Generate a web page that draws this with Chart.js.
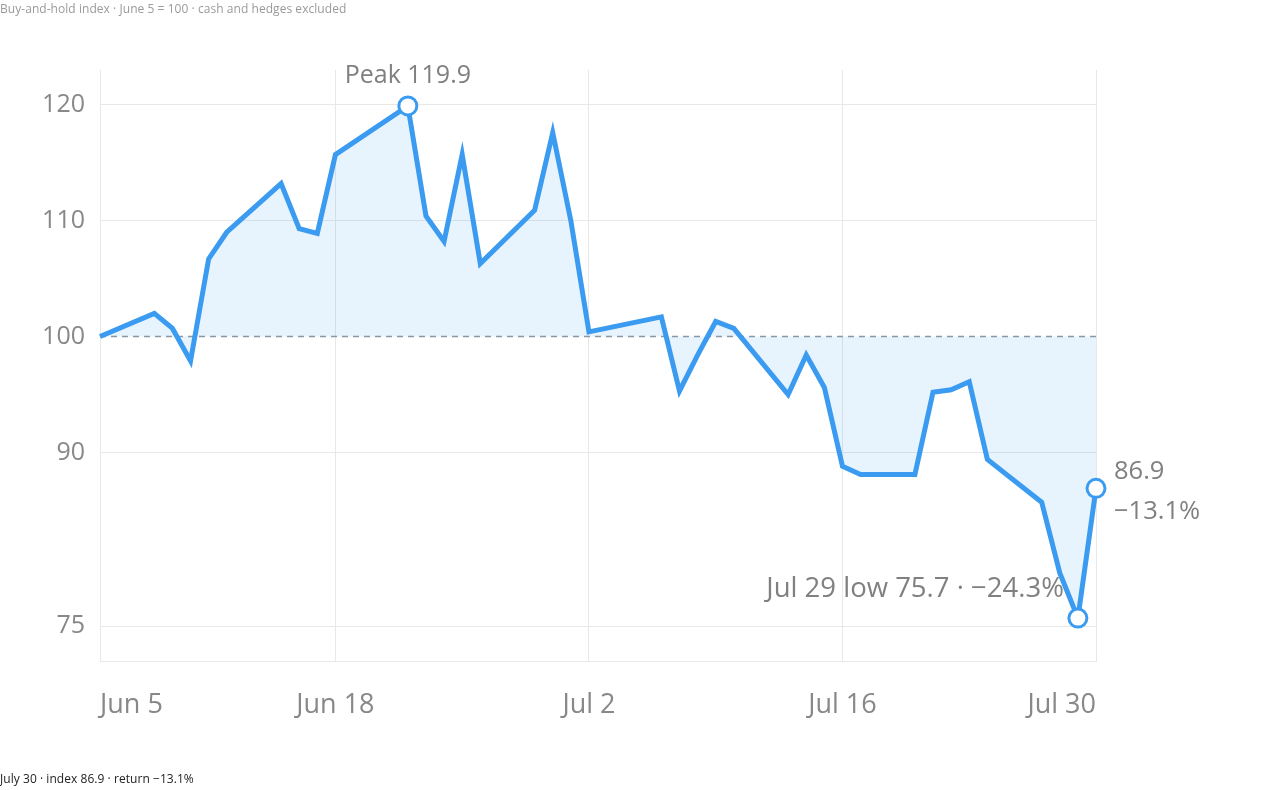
<!DOCTYPE html>
<html>
<head>
<meta charset="utf-8">
<script src="https://cdn.jsdelivr.net/npm/chart.js@4/dist/chart.umd.min.js"></script>
<style>
  html, body { margin: 0; padding: 0; background: #fff; }
  body { width: 1280px; height: 790px; position: relative; overflow: hidden; font-family: "Open Sans", sans-serif; }
  #wrap { position: absolute; left: 0; top: 0; width: 1280px; height: 790px; }
  .note { position: absolute; left: 0; font-size: 12px; white-space: nowrap; letter-spacing: 0.05px; }
  #title { top: 0; color: #9a9a9a; }
  #footer { top: 770px; color: #222; }
</style>
</head>
<body>
<div id="wrap"><canvas id="chart"></canvas></div>
<div class="note" id="title">Buy-and-hold index · June 5 = 100 · cash and hedges excluded</div>
<div class="note" id="footer">July 30 · index 86.9 · return −13.1%</div>
<script>
// trading days (2026) and index values, June 5 = 100
const tradeDates = [
  "2026-06-05", "2026-06-08", "2026-06-09", "2026-06-10", "2026-06-11", "2026-06-12",
  "2026-06-15", "2026-06-16", "2026-06-17", "2026-06-18", "2026-06-22", "2026-06-23",
  "2026-06-24", "2026-06-25", "2026-06-26", "2026-06-29", "2026-06-30", "2026-07-01",
  "2026-07-02", "2026-07-06", "2026-07-07", "2026-07-08", "2026-07-09", "2026-07-10",
  "2026-07-13", "2026-07-14", "2026-07-15", "2026-07-16", "2026-07-17", "2026-07-20",
  "2026-07-21", "2026-07-22", "2026-07-23", "2026-07-24", "2026-07-27", "2026-07-28",
  "2026-07-29", "2026-07-30"
];
const indexValues = [
  100, 102.0, 100.7, 97.9, 106.7, 109.0,
  113.2, 109.3, 108.9, 115.7, 119.9, 110.4,
  108.2, 115.7, 106.3, 110.9, 117.6, 110.0,
  100.4, 101.7, 95.3, 98.4, 101.3, 100.7,
  95.0, 98.4, 95.6, 88.8, 88.1, 88.1,
  95.2, 95.4, 96.1, 89.4, 85.7, 79.6,
  75.7, 86.9
];
const xTickDates = ["2026-06-05", "2026-06-18", "2026-07-02", "2026-07-16", "2026-07-30"];
const xTickLabels = ["Jun 5", "Jun 18", "Jul 2", "Jul 16", "Jul 30"];
const yTicks = [75, 90, 100, 110, 120];
const baseValue = 100;

const DAY = 86400000;
const t0 = Date.parse(tradeDates[0]);
const dayOf = d => Math.round((Date.parse(d) - t0) / DAY);

const points = tradeDates.map((d, i) => ({ x: dayOf(d), y: indexValues[i] }));
const tickDays = xTickDates.map(dayOf);
const lastDay = dayOf(tradeDates[tradeDates.length - 1]);

let peakIdx = 0, lowIdx = 0;
indexValues.forEach((v, i) => {
  if (v > indexValues[peakIdx]) peakIdx = i;
  if (v < indexValues[lowIdx]) lowIdx = i;
});
const lastIdx = indexValues.length - 1;
const marked = [peakIdx, lowIdx, lastIdx];

const pct = v => {
  const r = (v - baseValue) / baseValue * 100;
  return (r < 0 ? "\u2212" : "+") + Math.abs(r).toFixed(1) + "%";
};
const fmtDay = d => {
  const dt = new Date(d + "T00:00:00Z");
  const m = ["Jan","Feb","Mar","Apr","May","Jun","Jul","Aug","Sep","Oct","Nov","Dec"][dt.getUTCMonth()];
  return m + " " + dt.getUTCDate();
};

const BLUE = "#3a9bf0";
const GRID = "#e8e8e8";
const TEXT = "#808080";
const FONT = "'Open Sans', sans-serif";

const labelPlugin = {
  id: "labels",
  afterDatasetsDraw(chart) {
    const ctx = chart.ctx;
    const xs = chart.scales.x, ys = chart.scales.y;
    const px = i => xs.getPixelForValue(points[i].x);
    const py = i => ys.getPixelForValue(points[i].y);
    ctx.save();
    ctx.fillStyle = TEXT;
    ctx.textBaseline = "middle";

    ctx.font = "25px " + FONT;
    ctx.textAlign = "center";
    ctx.fillText("Peak " + indexValues[peakIdx].toFixed(1), px(peakIdx), py(peakIdx) - 30);

    ctx.font = "27.5px " + FONT;
    ctx.textAlign = "right";
    ctx.fillText(fmtDay(tradeDates[lowIdx]) + " low " + indexValues[lowIdx].toFixed(1) + " \u00b7 " + pct(indexValues[lowIdx]),
      px(lowIdx) - 14, py(lowIdx) - 29);

    ctx.font = "25.5px " + FONT;
    ctx.textAlign = "left";
    ctx.fillText(indexValues[lastIdx].toFixed(1), px(lastIdx) + 18, py(lastIdx) - 17);
    ctx.fillText(pct(indexValues[lastIdx]), px(lastIdx) + 18, py(lastIdx) + 23);
    ctx.restore();
  }
};

new Chart(document.getElementById("chart"), {
  type: "line",
  data: {
    datasets: [
      {
        data: points,
        borderColor: BLUE,
        borderWidth: 5,
        backgroundColor: "rgba(58,155,240,0.12)",
        fill: { value: baseValue },
        tension: 0,
        pointRadius: points.map((p, i) => marked.includes(i) ? 9 : 0),
        pointBackgroundColor: "#fff",
        pointBorderColor: BLUE,
        pointBorderWidth: 3,
        clip: false,
        order: 0
      },
      {
        data: [{ x: 0, y: baseValue }, { x: lastDay, y: baseValue }],
        borderColor: "#8d99a5",
        borderWidth: 1.5,
        borderDash: [6, 5],
        pointRadius: 0,
        fill: false,
        order: 1
      }
    ]
  },
  options: {
    responsive: true,
    maintainAspectRatio: false,
    animation: false,
    layout: { padding: { top: 70, right: 184, left: 0, bottom: 0 } },
    plugins: { legend: { display: false }, tooltip: { enabled: false } },
    scales: {
      x: {
        type: "linear",
        min: 0,
        max: lastDay,
        afterBuildTicks: s => { s.ticks = tickDays.map(v => ({ value: v })); },
        afterFit: s => { s.height = 129; },
        grid: { color: GRID, drawTicks: false },
        border: { color: GRID },
        ticks: {
          autoSkip: false,
          maxRotation: 0,
          align: "inner",
          padding: 28,
          color: "#888",
          font: { family: FONT, size: 27 },
          callback: v => xTickLabels[tickDays.indexOf(v)]
        }
      },
      y: {
        min: 72,
        max: 123,
        afterBuildTicks: s => { s.ticks = yTicks.map(v => ({ value: v })); },
        afterFit: s => { s.width = 100; },
        grid: { color: c => c.tick && c.tick.value === baseValue ? "rgba(0,0,0,0)" : GRID, drawTicks: false },
        border: { color: GRID },
        ticks: {
          padding: 15,
          color: "#888",
          font: { family: FONT, size: 25 }
        }
      }
    }
  },
  plugins: [labelPlugin]
});
</script>
</body>
</html>
